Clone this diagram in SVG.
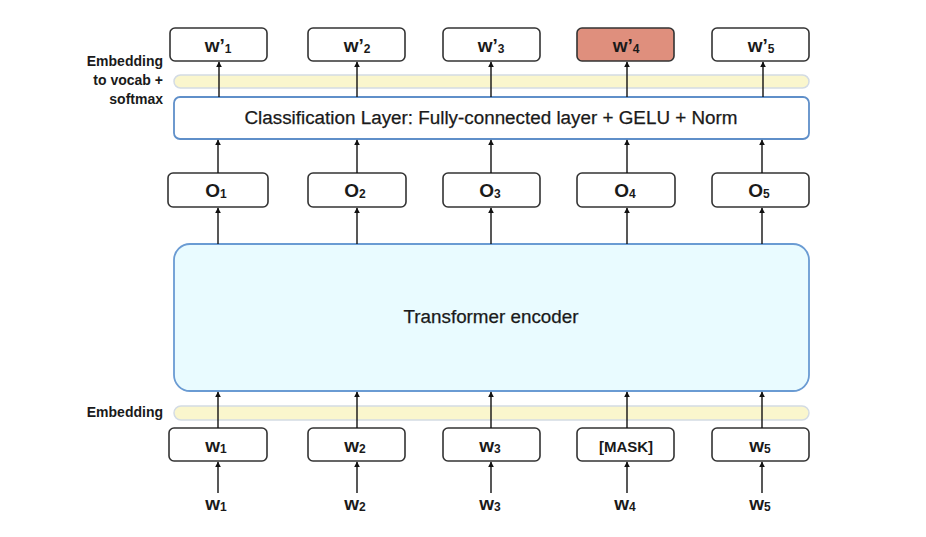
<svg xmlns="http://www.w3.org/2000/svg" width="926" height="537" viewBox="0 0 926 537">
  <defs>
    <marker id="arrow" viewBox="0 0 10 10" refX="9" refY="5" markerWidth="6" markerHeight="7" markerUnits="userSpaceOnUse" orient="auto">
      <path d="M0,0 L10,5 L0,10 z" fill="#111"/>
    </marker>
    <style>
      text { font-family: "Liberation Sans", Arial, sans-serif; fill: #1a1a1a; }
      .tok { fill: #ffffff; stroke: #333333; stroke-width: 1.6; }
      .hit { fill: #df8f7d; stroke: #333333; stroke-width: 1.6; }
      .band { fill: #faf6cd; stroke: #d3dbe4; stroke-width: 1.5; }
      .layer { fill: #ffffff; stroke: #5f8fc9; stroke-width: 1.8; }
      .enc { fill: #e9fbff; stroke: #6a9bd3; stroke-width: 1.8; }
      .lbl { font-size: 19px; font-weight: bold; text-anchor: middle; }
      .sub { font-size: 12px; }
      .side { font-size: 14px; font-weight: bold; text-anchor: end; }
      .big { font-size: 18px; text-anchor: middle; stroke: #1a1a1a; stroke-width: 0.25; }
      .conn line { stroke: #111; stroke-width: 1.4; marker-end: url(#arrow); }
    </style>
  </defs>

  <rect width="926" height="537" fill="#ffffff"/>

  <!-- side labels -->
  <g id="label-vocab">
    <text class="side" x="163" y="66">Embedding</text>
    <text class="side" x="163" y="85">to vocab +</text>
    <text class="side" x="163" y="104">softmax</text>
  </g>
  <g id="label-embedding">
    <text class="side" x="163" y="417">Embedding</text>
  </g>

  <!-- embedding bands -->
  <g id="band-top"><rect class="band" x="174" y="75" width="635" height="13" rx="6.5"/></g>
  <g id="band-bottom"><rect class="band" x="174" y="406" width="635" height="14" rx="7"/></g>

  <!-- output predictions -->
  <g id="out-1"><rect class="tok" x="170" y="28" width="97" height="33" rx="5"/><text class="lbl" x="218" y="52">w’<tspan class="sub" dy="1">1</tspan></text></g>
  <g id="out-2"><rect class="tok" x="308" y="28" width="97" height="33" rx="5"/><text class="lbl" x="357" y="52">w’<tspan class="sub" dy="1">2</tspan></text></g>
  <g id="out-3"><rect class="tok" x="443" y="28" width="97" height="33" rx="5"/><text class="lbl" x="491" y="52">w’<tspan class="sub" dy="1">3</tspan></text></g>
  <g id="out-4"><rect class="hit" x="577" y="28" width="97" height="33" rx="5"/><text class="lbl" x="626" y="52">w’<tspan class="sub" dy="1">4</tspan></text></g>
  <g id="out-5"><rect class="tok" x="712" y="28" width="97" height="33" rx="5"/><text class="lbl" x="761" y="52">w’<tspan class="sub" dy="1">5</tspan></text></g>

  <!-- classification layer -->
  <g id="classifier">
    <rect class="layer" x="174" y="97" width="635" height="42" rx="6"/>
    <text class="big" x="491" y="124" textLength="493" lengthAdjust="spacingAndGlyphs">Classification Layer: Fully-connected layer + GELU + Norm</text>
  </g>

  <!-- encoder outputs -->
  <g id="o-1"><rect class="tok" x="168" y="173" width="100" height="34" rx="5"/><text class="lbl" x="216" y="197">O<tspan class="sub" dy="1">1</tspan></text></g>
  <g id="o-2"><rect class="tok" x="308" y="173" width="98" height="34" rx="5"/><text class="lbl" x="355" y="197">O<tspan class="sub" dy="1">2</tspan></text></g>
  <g id="o-3"><rect class="tok" x="443" y="173" width="97" height="34" rx="5"/><text class="lbl" x="490" y="197">O<tspan class="sub" dy="1">3</tspan></text></g>
  <g id="o-4"><rect class="tok" x="577" y="173" width="98" height="34" rx="5"/><text class="lbl" x="625" y="197">O<tspan class="sub" dy="1">4</tspan></text></g>
  <g id="o-5"><rect class="tok" x="712" y="173" width="97" height="34" rx="5"/><text class="lbl" x="759" y="197">O<tspan class="sub" dy="1">5</tspan></text></g>

  <!-- encoder -->
  <g id="encoder">
    <rect class="enc" x="174" y="244" width="635" height="147" rx="16"/>
    <text class="big" x="491" y="323" textLength="175" lengthAdjust="spacingAndGlyphs">Transformer encoder</text>
  </g>

  <!-- input tokens -->
  <g id="in-1"><rect class="tok" x="169" y="428" width="98" height="33" rx="5"/><text class="lbl" x="216" y="452">w<tspan class="sub" dy="1">1</tspan></text></g>
  <g id="in-2"><rect class="tok" x="308" y="428" width="97" height="33" rx="5"/><text class="lbl" x="355" y="452">w<tspan class="sub" dy="1">2</tspan></text></g>
  <g id="in-3"><rect class="tok" x="443" y="428" width="97" height="33" rx="5"/><text class="lbl" x="490" y="452">w<tspan class="sub" dy="1">3</tspan></text></g>
  <g id="in-4"><rect class="tok" x="577" y="428" width="97" height="33" rx="5"/><text class="lbl" x="626" y="452" style="font-size:15px">[MASK]</text></g>
  <g id="in-5"><rect class="tok" x="712" y="428" width="97" height="33" rx="5"/><text class="lbl" x="760" y="452">w<tspan class="sub" dy="1">5</tspan></text></g>

  <!-- raw words -->
  <g id="word-1"><text class="lbl" x="216" y="510">w<tspan class="sub" dy="1">1</tspan></text></g>
  <g id="word-2"><text class="lbl" x="355" y="510">w<tspan class="sub" dy="1">2</tspan></text></g>
  <g id="word-3"><text class="lbl" x="490" y="510">w<tspan class="sub" dy="1">3</tspan></text></g>
  <g id="word-4"><text class="lbl" x="625" y="510">w<tspan class="sub" dy="1">4</tspan></text></g>
  <g id="word-5"><text class="lbl" x="760" y="510">w<tspan class="sub" dy="1">5</tspan></text></g>

  <!-- connectors -->
  <g id="connectors" class="conn">
    <line x1="218" y1="493" x2="218" y2="462"/>
    <line x1="357" y1="493" x2="357" y2="462"/>
    <line x1="491" y1="493" x2="491" y2="462"/>
    <line x1="627" y1="493" x2="627" y2="462"/>
    <line x1="762" y1="493" x2="762" y2="462"/>

    <line x1="218" y1="428" x2="218" y2="392"/>
    <line x1="357" y1="428" x2="357" y2="392"/>
    <line x1="491" y1="428" x2="491" y2="392"/>
    <line x1="627" y1="428" x2="627" y2="392"/>
    <line x1="762" y1="428" x2="762" y2="392"/>

    <line x1="218" y1="244" x2="218" y2="208"/>
    <line x1="357" y1="244" x2="357" y2="208"/>
    <line x1="491" y1="244" x2="491" y2="208"/>
    <line x1="627" y1="244" x2="627" y2="208"/>
    <line x1="762" y1="244" x2="762" y2="208"/>

    <line x1="218" y1="173" x2="218" y2="140"/>
    <line x1="357" y1="173" x2="357" y2="140"/>
    <line x1="491" y1="173" x2="491" y2="140"/>
    <line x1="627" y1="173" x2="627" y2="140"/>
    <line x1="762" y1="173" x2="762" y2="140"/>

    <line x1="219" y1="97" x2="219" y2="62"/>
    <line x1="357" y1="97" x2="357" y2="62"/>
    <line x1="491" y1="97" x2="491" y2="62"/>
    <line x1="627" y1="97" x2="627" y2="62"/>
    <line x1="763" y1="97" x2="763" y2="62"/>
  </g>
</svg>
